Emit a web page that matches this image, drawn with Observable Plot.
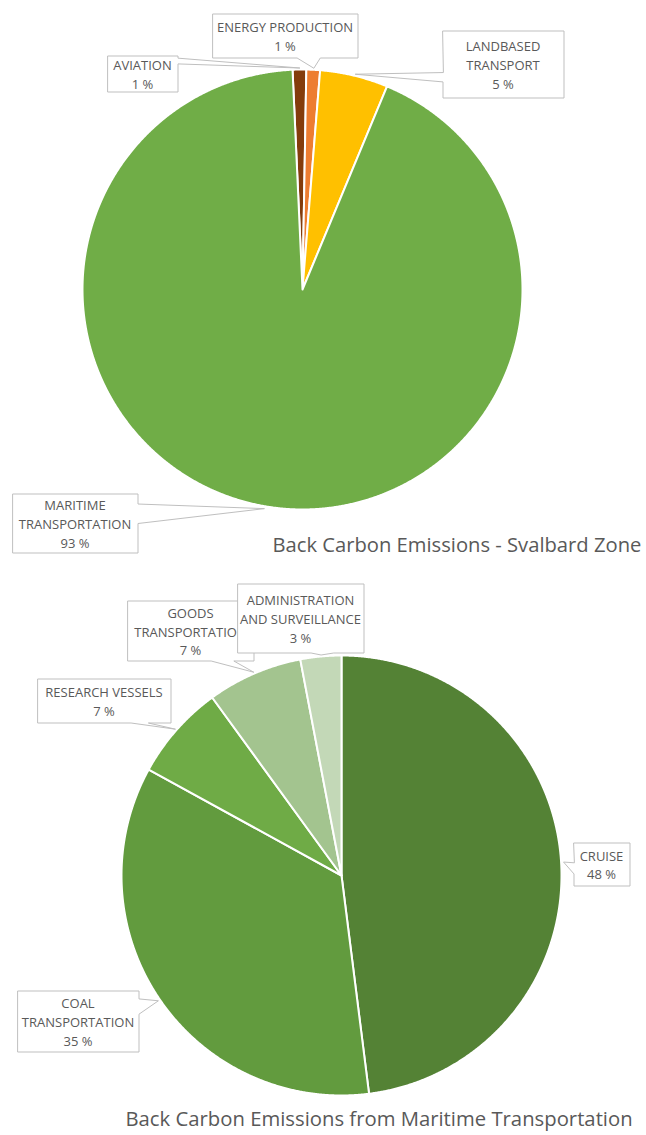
<!DOCTYPE html>
<html>
<head>
<meta charset="utf-8">
<script src="https://cdn.jsdelivr.net/npm/d3@7"></script>
<script src="https://cdn.jsdelivr.net/npm/@observablehq/plot@0.6"></script>
<style>
  html, body { margin: 0; padding: 0; background: #ffffff; }
</style>
</head>
<body>
<div id="chart"></div>
<script>
// Black carbon emissions in the Svalbard zone, share by sector (%)
const zoneCategories = ["AVIATION", "ENERGY PRODUCTION", "LANDBASED\nTRANSPORT", "MARITIME\nTRANSPORTATION"];
const zoneValues = [1, 1, 5, 93];
const zoneColors = ["#843c0c", "#ed7d31", "#ffc000", "#70ad47"];

// Black carbon emissions from maritime transportation, share by activity (%)
const maritimeCategories = ["CRUISE", "COAL\nTRANSPORTATION", "RESEARCH VESSELS", "GOODS\nTRANSPORTATION", "ADMINISTRATION\nAND SURVEILLANCE"];
const maritimeValues = [48, 35, 7, 7, 3];
const maritimeColors = ["#548235", "#629b3e", "#6fab46", "#a3c48f", "#c3d8b7"];

const chartTitles = ["Back Carbon Emissions - Svalbard Zone", "Back Carbon Emissions from Maritime Transportation"];

// ---- layout ----
const W = 646, H = 1135;
const TEXT = "#595959";
const FONT = "'Open Sans', 'DejaVu Sans', sans-serif";

// callout boxes [x0, y0, x1, y1], the box side carrying the pointer, and where the pointer base sits on that side
const zoneCallouts = [
  {box: [107, 55, 177, 91],   side: "right",  base: [0.06, 0.22]},
  {box: [212, 13, 357, 57],   side: "bottom", base: [0.58, 0.74]},
  {box: [442, 30, 563, 97],   side: "left",   base: [0.62, 0.76]},
  {box: [12, 493, 137, 552],  side: "right",  base: [0.17, 0.50]}
];
const maritimeCallouts = [
  {box: [573, 842, 629, 885],  side: "left",   base: [0.46, 0.72]},
  {box: [17, 990, 138, 1051],  side: "right",  base: [0.13, 0.38]},
  {box: [37, 678, 170, 722],   side: "bottom", base: [0.70, 0.83]},
  {box: [127, 600, 253, 660],  side: "bottom", base: [0.66, 0.84]},
  {box: [237, 583, 363, 652],  side: "bottom", base: [0.58, 0.76]}
];

const pies = [
  {cx: 302, cy: 289, r: 220, start: -2.6, categories: zoneCategories, values: zoneValues, callouts: zoneCallouts,
   title: chartTitles[0], titleX: 272, titleY: 545, titleSize: 20.2},
  {cx: 341, cy: 875, r: 220, start: 0, categories: maritimeCategories, values: maritimeValues, callouts: maritimeCallouts,
   title: chartTitles[1], titleX: 125, titleY: 1119, titleSize: 20.3}
];

const rad = Math.PI / 180;
const lerp = (a, b, t) => a + (b - a) * t;

// polygon outline of every slice, built from d3.pie angles (clockwise from 12 o'clock)
function slicePolygons(p) {
  const a0 = p.start * rad;
  const arcs = d3.pie().sort(null).startAngle(a0).endAngle(a0 + 2 * Math.PI)(p.values);
  const pts = [];
  arcs.forEach((a, i) => {
    const key = p.categories[i];
    pts.push({key, x: p.cx, y: p.cy});
    const n = Math.max(2, Math.ceil((a.endAngle - a.startAngle) / (0.25 * rad)));
    for (let k = 0; k <= n; ++k) {
      const t = lerp(a.startAngle, a.endAngle, k / n);
      pts.push({key, x: p.cx + p.r * Math.sin(t), y: p.cy - p.r * Math.cos(t)});
    }
  });
  return {arcs, pts};
}

// rectangle callout with a wedge pointing at the slice rim
function calloutPolygon(c, tip, key) {
  const [x0, y0, x1, y1] = c.box;
  const f = c.base;
  const pts = [[x0, y0]];
  if (c.side === "top") pts.push([lerp(x0, x1, f[0]), y0], tip, [lerp(x0, x1, f[1]), y0]);
  pts.push([x1, y0]);
  if (c.side === "right") pts.push([x1, lerp(y0, y1, f[0])], tip, [x1, lerp(y0, y1, f[1])]);
  pts.push([x1, y1]);
  if (c.side === "bottom") pts.push([lerp(x0, x1, f[1]), y1], tip, [lerp(x0, x1, f[0]), y1]);
  pts.push([x0, y1]);
  if (c.side === "left") pts.push([x0, lerp(y0, y1, f[1])], tip, [x0, lerp(y0, y1, f[0])]);
  return pts.map(([x, y]) => ({key, x: x + 0.5, y: y + 0.5}));
}

const marks = [];
for (const p of pies) {
  const {arcs, pts} = slicePolygons(p);
  marks.push(Plot.line(pts, {
    x: "x", y: "y", z: "key", fill: "key",
    stroke: "white", strokeWidth: 2, strokeLinejoin: "round", curve: "linear-closed"
  }));
  arcs.forEach((a, i) => {
    const c = p.callouts[i];
    const mid = (a.startAngle + a.endAngle) / 2;
    const tip = [p.cx + (p.r + 2) * Math.sin(mid), p.cy - (p.r + 2) * Math.cos(mid)];
    const key = p.categories[i];
    marks.push(Plot.line(calloutPolygon(c, tip, key), {
      x: "x", y: "y", fill: "white", stroke: "#bfbfbf", strokeWidth: 1, curve: "linear-closed"
    }));
    marks.push(Plot.text([{label: key, value: p.values[i]}], {
      x: () => (c.box[0] + c.box[2]) / 2,
      y: () => (c.box[1] + c.box[3]) / 2,
      text: d => `${d.label}\n${d.value} %`,
      fontSize: 13, lineHeight: 1.45, fill: TEXT, fontFamily: FONT
    }));
  });
  marks.push(Plot.text([p.title], {
    x: () => p.titleX, y: () => p.titleY, text: d => d,
    textAnchor: "start", fontSize: p.titleSize, fill: TEXT, fontFamily: FONT
  }));
}

const chart = Plot.plot({
  width: W,
  height: H,
  margin: 0,
  x: {domain: [0, W], range: [0, W], axis: null},
  y: {domain: [0, H], range: [0, H], axis: null},
  color: {
    domain: [...zoneCategories, ...maritimeCategories],
    range: [...zoneColors, ...maritimeColors]
  },
  style: {background: "#ffffff", fontFamily: FONT},
  marks
});
document.getElementById("chart").appendChild(chart);
</script>
</body>
</html>
